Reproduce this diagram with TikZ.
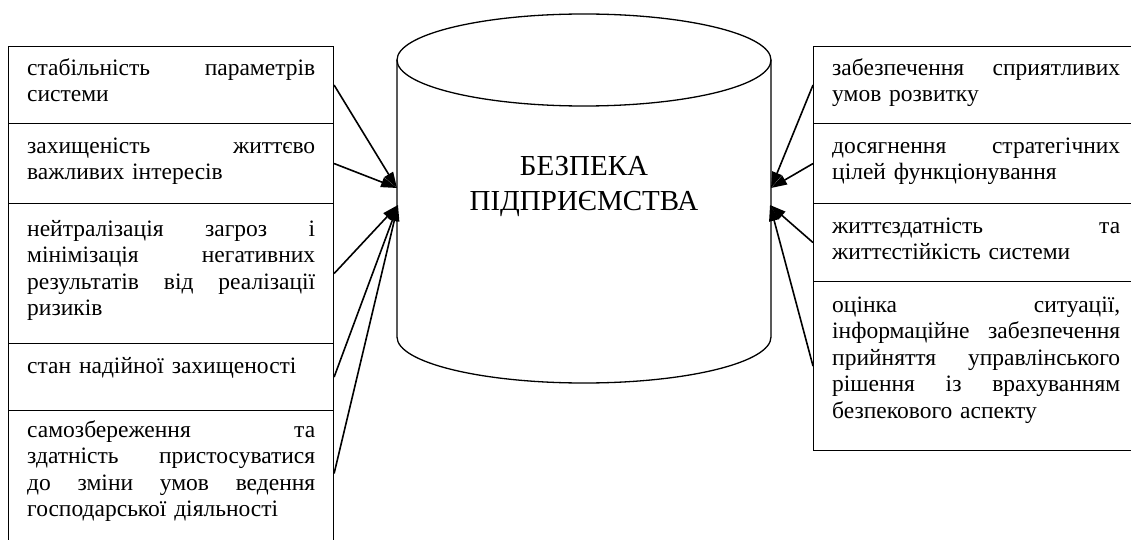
\documentclass[tikz,border=0pt]{standalone}
\usepackage{fontspec}
\setmainfont{Liberation Serif}
\usetikzlibrary{arrows.meta,calc}
\newcommand\jline[1]{{\spaceskip=0.25em plus 20em\xspaceskip=0.25em plus 20em\makebox[288pt][s]{#1}}}
\begin{document}
\begin{tikzpicture}[x=1pt,y=-1pt,
  box/.style={draw, line width=1.1pt, minimum width=325pt, inner sep=0pt, anchor=north west},
  txt/.style={anchor=north west, inner sep=0pt, text width=288pt, align=left,
              font=\fontsize{23.5}{26.5}\selectfont},
  arr/.style={line width=1.6pt, -{Triangle[length=16pt,width=10pt]}},
  cyl/.style={line width=1.3pt},
  title/.style={font=\fontsize{29}{35}\selectfont, align=center, inner sep=0pt}]
\useasboundingbox (0,0) rectangle (1131,540);
\clip (0,0) rectangle (1131,540);
% cylinder
\draw[cyl] (584,60) ellipse [x radius=187, y radius=46];
\draw[cyl] (397,60) -- (397,337)
  .. controls (397,362.4) and (480.8,383) .. (584,383)
  .. controls (687.2,383) and (771,362.4) .. (771,337) -- (771,60);
\node[title] (cyl) at (584,186) {БЕЗПЕКА\\ПІДПРИЄМСТВА};
\coordinate (cL1) at (397,188);
\coordinate (cL2) at (398,205);
\coordinate (cR1) at (771,188);
\coordinate (cR2) at (770,205);
% left boxes
\node[box, minimum height=77pt]  (l1) at (8,46)  {};
\node[box, minimum height=80pt]  (l2) at (8,123) {};
\node[box, minimum height=140pt] (l3) at (8,203) {};
\node[box, minimum height=67pt]  (l4) at (8,343) {};
\node[box, minimum height=150pt] (l5) at (8,410) {};
% right boxes
\node[box, minimum height=77pt]  (r1) at (813,46)  {};
\node[box, minimum height=80pt]  (r2) at (813,123) {};
\node[box, minimum height=78pt]  (r3) at (813,203) {};
\node[box, minimum height=169pt] (r4) at (813,281) {};
% texts
\node[txt] (tl1) at ([xshift=19pt,yshift=-9pt]l1.north west)
  {\rule{0pt}{20pt}\jline{стабільність параметрів}\\системи};
\node[txt] (tl2) at ([xshift=19pt,yshift=-10pt]l2.north west)
  {\rule{0pt}{20pt}\jline{захищеність життєво}\\важливих інтересів};
\node[txt] (tl3) at ([xshift=19pt,yshift=-13pt]l3.north west)
  {\rule{0pt}{20pt}\jline{нейтралізація загроз і}\\\jline{мінімізація негативних}\\\jline{результатів від реалізації}\\ризиків};
\node[txt] (tl4) at ([xshift=19pt,yshift=-10pt]l4.north west)
  {\rule{0pt}{20pt}стан надійної захищеності};
\node[txt] (tl5) at ([xshift=19pt,yshift=-7pt]l5.north west)
  {\rule{0pt}{20pt}\jline{самозбереження та}\\\jline{здатність пристосуватися}\\\jline{до зміни умов ведення}\\господарської діяльності};
\node[txt] (tr1) at ([xshift=19pt,yshift=-9pt]r1.north west)
  {\rule{0pt}{20pt}\jline{забезпечення сприятливих}\\умов розвитку};
\node[txt] (tr2) at ([xshift=19pt,yshift=-10pt]r2.north west)
  {\rule{0pt}{20pt}\jline{досягнення стратегічних}\\цілей функціонування};
\node[txt] (tr3) at ([xshift=19pt,yshift=-10pt]r3.north west)
  {\rule{0pt}{20pt}\jline{життєздатність та}\\життєстійкість системи};
\node[txt] (tr4) at ([xshift=19pt,yshift=-11pt]r4.north west)
  {\rule{0pt}{20pt}\jline{оцінка ситуації,}\\\jline{інформаційне забезпечення}\\\jline{прийняття управлінського}\\\jline{рішення із врахуванням}\\безпекового аспекту};
% arrows
\draw[arr] (l1.east) -- (cL1);
\draw[arr] (l2.east) -- (cL1);
\draw[arr] (l3.east) -- (cL2);
\draw[arr] (l4.east) -- (cL2);
\draw[arr] ([yshift=12pt]l5.east) -- (cL2);
\draw[arr] (r1.west) -- (cR1);
\draw[arr] (r2.west) -- (cR1);
\draw[arr] (r3.west) -- (cR2);
\draw[arr] (r4.west) -- (cR2);
\end{tikzpicture}
\end{document}
